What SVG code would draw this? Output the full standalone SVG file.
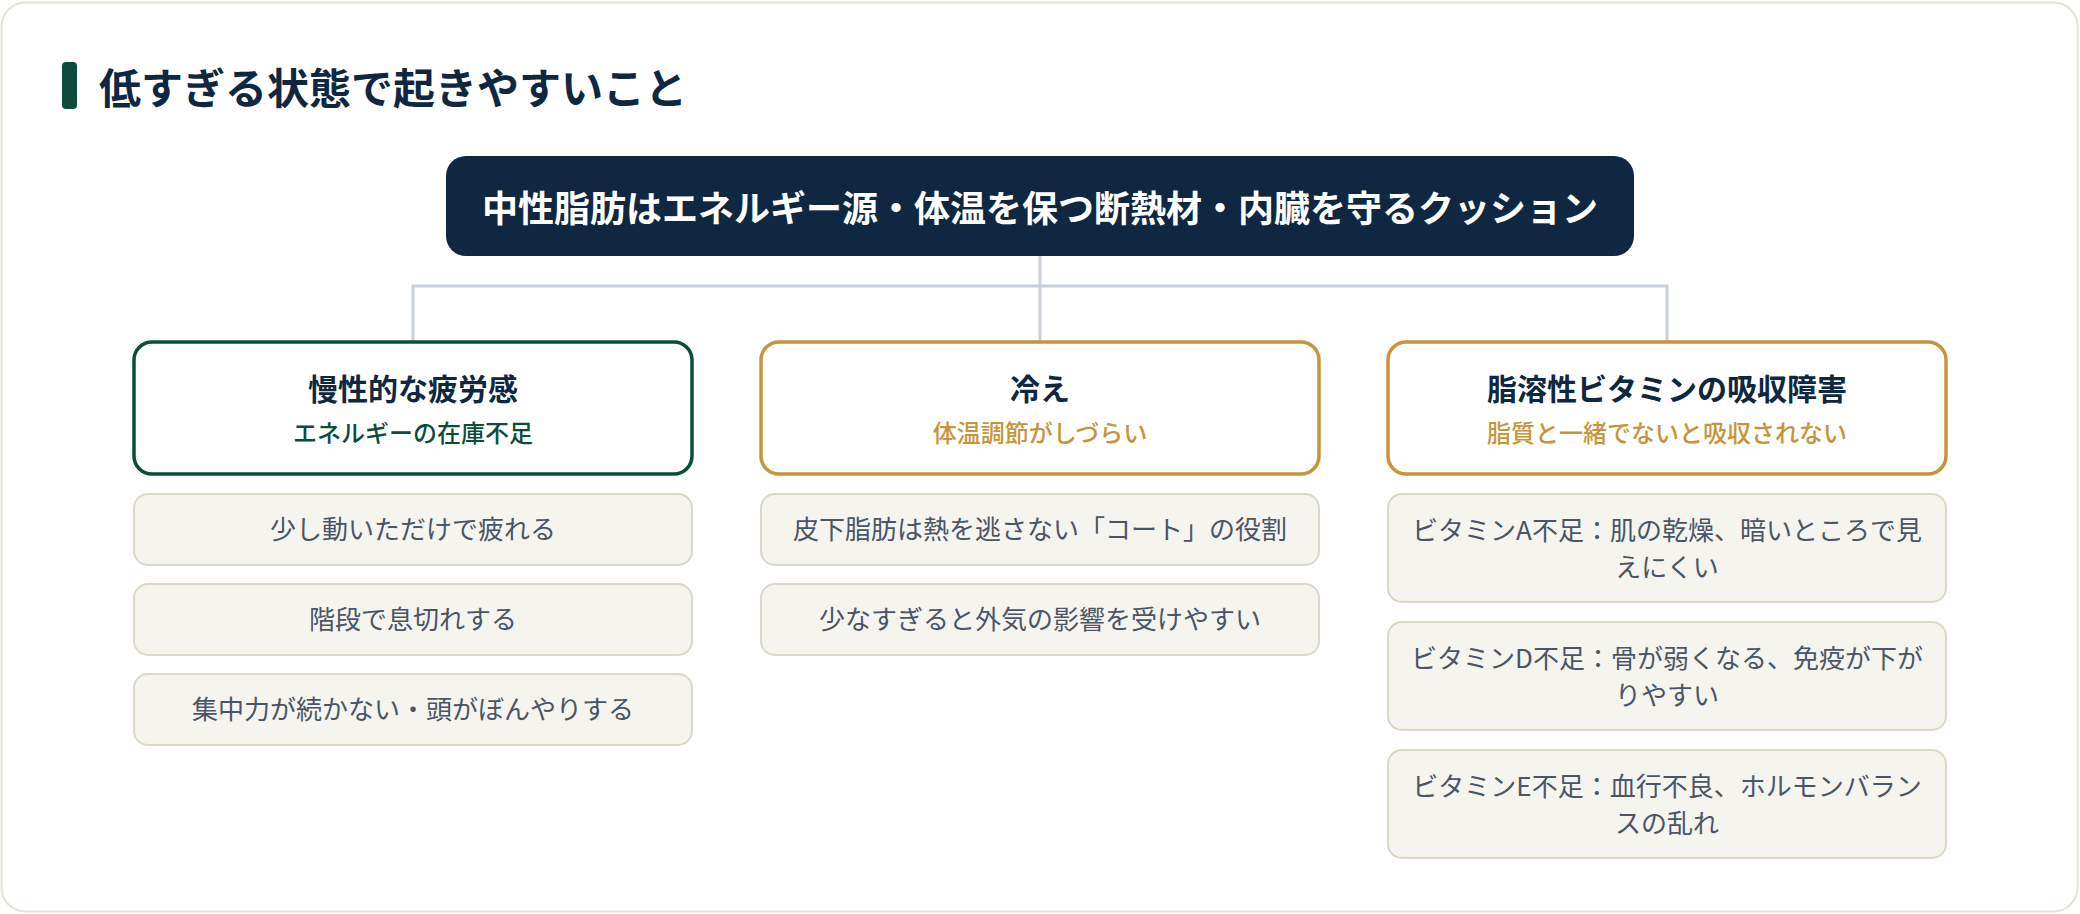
<svg xmlns="http://www.w3.org/2000/svg" width="2080" height="914" viewBox="0 0 2080 914">
<style>
text{font-family:"Noto Sans CJK JP","Noto Sans",sans-serif;text-anchor:middle}
.h1{font-size:42px;font-weight:700;fill:#0f2740;text-anchor:start}
.root{font-size:36px;font-weight:700;fill:#ffffff}
.ct{font-size:30px;font-weight:700;fill:#0f2740}
.cs{font-size:24px;font-weight:500}
.it{font-size:26px;font-weight:400;fill:#4a5566}
.item{fill:#f6f4ef;stroke:#dcd8c7;stroke-width:2}
.cat{fill:#ffffff;stroke-width:3.5}
.conn{fill:none;stroke:#c9d0da;stroke-width:3}
</style>
<rect x="1.5" y="2.5" width="2076" height="909" rx="24" fill="#ffffff" stroke="#e6e3d6" stroke-width="2"/>
<g id="heading">
<rect x="62" y="62" width="15" height="47" rx="4" fill="#0b4d3a"/>
<text class="h1" x="99" y="104">低すぎる状態で起きやすいこと</text>
</g>
<g id="connectors">
<path class="conn" d="M1040 256 V286 M413 341 V286 H1667 V341 M1040 286 V341"/>
</g>
<g id="root">
<rect x="446" y="156" width="1188" height="100" rx="20" fill="#0f2740"/>
<text class="root" x="1040" y="222">中性脂肪はエネルギー源・体温を保つ断熱材・内臓を守るクッション</text>
</g>
<g id="cat-fatigue">
<rect class="cat" x="134" y="342" width="558" height="132" rx="18" stroke="#0b4d3a"/>
<text class="ct" x="413" y="400">慢性的な疲労感</text>
<text class="cs" x="413" y="442" fill="#0b4d3a">エネルギーの在庫不足</text>
</g>
<g id="cat-cold">
<rect class="cat" x="761" y="342" width="558" height="132" rx="18" stroke="#c8943a"/>
<text class="ct" x="1040" y="400">冷え</text>
<text class="cs" x="1040" y="442" fill="#c8943a">体温調節がしづらい</text>
</g>
<g id="cat-vitamin">
<rect class="cat" x="1388" y="342" width="558" height="132" rx="18" stroke="#c8943a"/>
<text class="ct" x="1667" y="400">脂溶性ビタミンの吸収障害</text>
<text class="cs" x="1667" y="442" fill="#c8943a">脂質と一緒でないと吸収されない</text>
</g>
<g id="item-f1">
<rect class="item" x="134" y="494" width="558" height="71" rx="14"/>
<text class="it" x="413" y="539">少し動いただけで疲れる</text>
</g>
<g id="item-f2">
<rect class="item" x="134" y="584" width="558" height="71" rx="14"/>
<text class="it" x="413" y="629">階段で息切れする</text>
</g>
<g id="item-f3">
<rect class="item" x="134" y="674" width="558" height="71" rx="14"/>
<text class="it" x="413" y="719">集中力が続かない・頭がぼんやりする</text>
</g>
<g id="item-c1">
<rect class="item" x="761" y="494" width="558" height="71" rx="14"/>
<text class="it" x="1040" y="539">皮下脂肪は熱を逃さない「コート」の役割</text>
</g>
<g id="item-c2">
<rect class="item" x="761" y="584" width="558" height="71" rx="14"/>
<text class="it" x="1040" y="629">少なすぎると外気の影響を受けやすい</text>
</g>
<g id="item-v1">
<rect class="item" x="1388" y="494" width="558" height="108" rx="14"/>
<text class="it" x="1667" y="540">ビタミンA不足：肌の乾燥、暗いところで見</text>
<text class="it" x="1667" y="577">えにくい</text>
</g>
<g id="item-v2">
<rect class="item" x="1388" y="622" width="558" height="108" rx="14"/>
<text class="it" x="1667" y="668">ビタミンD不足：骨が弱くなる、免疫が下が</text>
<text class="it" x="1667" y="705">りやすい</text>
</g>
<g id="item-v3">
<rect class="item" x="1388" y="750" width="558" height="108" rx="14"/>
<text class="it" x="1667" y="796">ビタミンE不足：血行不良、ホルモンバラン</text>
<text class="it" x="1667" y="833">スの乱れ</text>
</g>
</svg>
